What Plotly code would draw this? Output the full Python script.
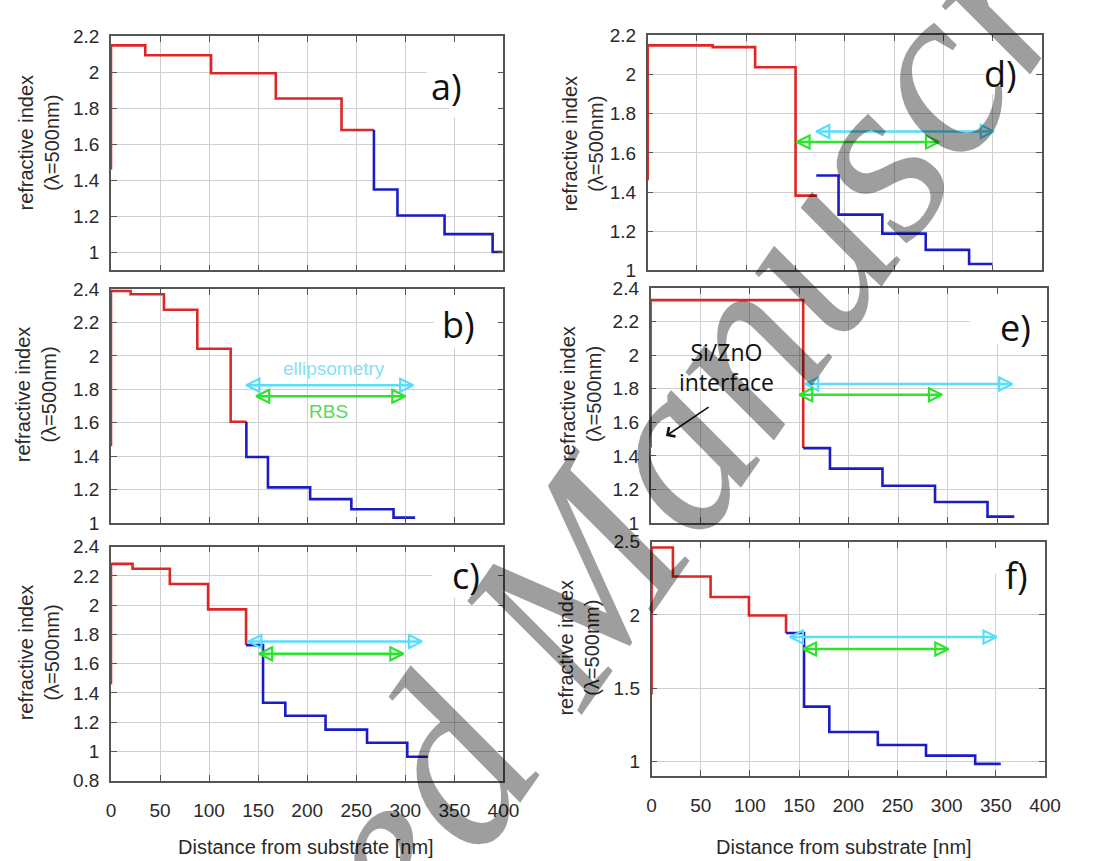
import plotly.graph_objects as go

# ---------------------------------------------------------------------------
# Refractive index (lambda = 500 nm) depth profiles for six ZnO samples.
# Each profile is a step function: x = start of a layer [nm], y = index of
# that layer (the point list is drawn with a horizontal-then-vertical step).
# "inner" = dense part of the film (red), "outer" = graded surface part (blue).
# ---------------------------------------------------------------------------
a_inner_x = [0, 0, 35, 102, 168, 235, 268]
a_inner_y = [1.46, 2.15, 2.095, 1.995, 1.855, 1.68, 1.68]
a_outer_x = [268, 268, 292, 340, 389, 399]
a_outer_y = [1.68, 1.35, 1.205, 1.102, 1.003, 1.003]

b_inner_x = [0, 0, 20, 54, 88, 122, 138]
b_inner_y = [1.46, 2.388, 2.369, 2.276, 2.043, 1.606, 1.606]
b_outer_x = [138, 138, 160, 203, 245, 288, 310]
b_outer_y = [1.606, 1.396, 1.214, 1.144, 1.083, 1.033, 1.033]

c_inner_x = [0, 0, 22, 60, 99, 137.7]
c_inner_y = [1.46, 2.282, 2.249, 2.144, 1.971, 1.727]
c_outer_x = [137.7, 155, 177.7, 218.7, 261, 302, 323]
c_outer_y = [1.727, 1.333, 1.244, 1.149, 1.06, 0.964, 0.964]

d_inner_x = [0, 0, 66, 109, 150, 172]
d_inner_y = [1.461, 2.149, 2.14, 2.037, 1.382, 1.382]
d_outer_x = [171, 193.6, 238, 282, 326, 349.6]
d_outer_y = [1.485, 1.285, 1.188, 1.105, 1.033, 1.033]

e_inner_x = [0, 0, 154]
e_inner_y = [1.451, 2.328, 1.447]
e_outer_x = [154, 181, 234, 287, 340, 367]
e_outer_y = [1.447, 1.325, 1.223, 1.126, 1.039, 1.039]

f_inner_x = [0, 0, 21.7, 60, 99, 136.7]
f_inner_y = [1.456, 2.46, 2.262, 2.122, 1.996, 1.876]
f_outer_x = [136.7, 155, 180.7, 230, 279, 329, 355]
f_outer_y = [1.876, 1.373, 1.2, 1.111, 1.038, 0.982, 0.982]

# Depth ranges probed by ellipsometry and RBS: [start, end] and drawn level
ellips_range = {"b": [138, 308], "c": [140, 317], "d": [171, 351],
                "e": [156, 365], "f": [140.7, 350.7]}
ellips_level = {"b": 1.825, "c": 1.751, "d": 1.709, "e": 1.829, "f": 1.849}
rbs_range = {"b": [148, 300], "c": [151, 298], "d": [151, 295.5],
             "e": [150, 294], "f": [154, 301.7]}
rbs_level = {"b": 1.759, "c": 1.667, "d": 1.656, "e": 1.765, "f": 1.767}

# Axis ranges and ticks
x_ticks = [0, 50, 100, 150, 200, 250, 300, 350, 400]
y_ranges = {"a": [0.9, 2.2], "b": [1.0, 2.4], "c": [0.8, 2.4],
            "d": [1.0, 2.2], "e": [1.0, 2.4], "f": [0.9, 2.5]}
y_ticks = {
    "a": [1, 1.2, 1.4, 1.6, 1.8, 2, 2.2],
    "b": [1, 1.2, 1.4, 1.6, 1.8, 2, 2.2, 2.4],
    "c": [0.8, 1, 1.2, 1.4, 1.6, 1.8, 2, 2.2, 2.4],
    "d": [1, 1.2, 1.4, 1.6, 1.8, 2, 2.2],
    "e": [1, 1.2, 1.4, 1.6, 1.8, 2, 2.2, 2.4],
    "f": [1, 1.5, 2, 2.5],
}
panel_labels = ["a)", "b)", "c)", "d)", "e)", "f)"]

profiles = {
    "a": (a_inner_x, a_inner_y, a_outer_x, a_outer_y),
    "b": (b_inner_x, b_inner_y, b_outer_x, b_outer_y),
    "c": (c_inner_x, c_inner_y, c_outer_x, c_outer_y),
    "d": (d_inner_x, d_inner_y, d_outer_x, d_outer_y),
    "e": (e_inner_x, e_inner_y, e_outer_x, e_outer_y),
    "f": (f_inner_x, f_inner_y, f_outer_x, f_outer_y),
}

# ---------------------------------------------------------------------------
# Layout geometry (pixels on a 1114 x 861 canvas)
# ---------------------------------------------------------------------------
W, H = 1114, 861
boxes = {  # left, right, top, bottom
    "a": (108, 508, 27, 267),
    "b": (108, 508, 286, 526),
    "c": (108, 508, 550, 790),
    "d": (655, 1057, 26, 267),
    "e": (658, 1062, 285, 526),
    "f": (659, 1060, 545, 785),
}
# label position (data coords) and white patch behind it
label_pos = {"a": (342, 1.919), "b": (354, 2.188), "c": (362, 2.2),
             "d": (358, 2.004), "e": (368, 2.167), "f": (370.7, 2.267)}
label_patch = {"a": [(322, 397, 1.87, 2.2), (345, 397, 1.75, 2.2)],
               "b": [(329, 397, 2.05, 2.4)],
               "c": [(327, 397, 2.05, 2.4)],
               "d": [(342, 398, 1.9, 2.2)],
               "e": [(322, 399, 2.07, 2.4)],
               "f": [(345, 398, 2.28, 2.5)]}
ytitle_center = {"a": (34.5, 136), "b": (32.5, 394), "c": (35, 658),
                 "d": (589, 137), "e": (587.5, 393), "f": (585.5, 653)}

RED = "rgb(222,38,38)"
BLUE = "rgb(28,28,196)"
CYAN = "rgb(88,222,250)"
GREEN = "rgb(44,228,44)"
FRAME = "#555555"
GRID = "#cfcfcf"
TXT = "#2a2a2a"
SANS = "Liberation Sans, Arial, sans-serif"

fig = go.Figure()
layout_axes = {}
annotations = []
shapes = []

for i, key in enumerate("abcdef"):
    n = i + 1
    xa, ya = f"x{n}" if n > 1 else "x", f"y{n}" if n > 1 else "y"
    l, r, t, b = boxes[key]
    inner_x, inner_y, outer_x, outer_y = profiles[key]

    fig.add_trace(go.Scatter(x=inner_x, y=inner_y, mode="lines",
                             line=dict(color=RED, width=2.6, shape="hv"),
                             xaxis=xa, yaxis=ya, showlegend=False,
                             hoverinfo="skip"))
    fig.add_trace(go.Scatter(x=outer_x, y=outer_y, mode="lines",
                             line=dict(color=BLUE, width=2.6, shape="hv"),
                             xaxis=xa, yaxis=ya, showlegend=False,
                             hoverinfo="skip"))

    # double-headed range arrows
    for rng, lvl, col in ((ellips_range, ellips_level, CYAN),
                          (rbs_range, rbs_level, GREEN)):
        if key in rng:
            fig.add_trace(go.Scatter(
                x=rng[key], y=[lvl[key], lvl[key]], mode="lines+markers",
                line=dict(color=col, width=2.6),
                marker=dict(symbol=["arrow-left-open", "arrow-right-open"],
                            size=13, color=col,
                            line=dict(color=col, width=2.2)),
                xaxis=xa, yaxis=ya, showlegend=False, hoverinfo="skip"))

    show_x = key in ("c", "f")
    layout_axes["xaxis" if n == 1 else f"xaxis{n}"] = dict(
        domain=[l / W, r / W], anchor=ya, range=[0, 400],
        tickvals=x_ticks, ticktext=[f"{v:g}" for v in x_ticks],
        showticklabels=show_x, ticks="inside", ticklen=6, tickwidth=1,
        tickcolor=FRAME, showline=True, linecolor=FRAME, linewidth=1.6,
        mirror="ticks", showgrid=True, gridcolor=GRID, gridwidth=1,
        zeroline=False, ticklabelstandoff=12,
        tickfont=dict(family=SANS, size=19, color=TXT))
    layout_axes["yaxis" if n == 1 else f"yaxis{n}"] = dict(
        domain=[1 - b / H, 1 - t / H], anchor=xa, range=y_ranges[key],
        tickvals=y_ticks[key], ticktext=[f"{v:g}" for v in y_ticks[key]],
        ticks="inside", ticklen=6, tickwidth=1, tickcolor=FRAME,
        showline=True, linecolor=FRAME, linewidth=1.6, mirror="ticks",
        showgrid=True, gridcolor=GRID, gridwidth=1, zeroline=False,
        ticklabelstandoff=6,
        tickfont=dict(family=SANS, size=19, color=TXT))

    # white patch behind the panel letter (covers the grid only)
    for (x0, x1, y0, y1) in label_patch[key]:
        shapes.append(dict(type="rect", xref=xa, yref=ya, x0=x0, x1=x1,
                           y0=y0, y1=y1, fillcolor="white",
                           line=dict(width=0), layer="between"))

    lx, ly = label_pos[key]
    annotations.append(dict(x=lx, y=ly, xref=xa, yref=ya,
                            xanchor="center", yanchor="middle",
                            text=panel_labels[i], showarrow=False,
                            font=dict(family="Open Sans", size=36,
                                      color="#111111")))

    cx, cy = ytitle_center[key]
    annotations.append(dict(x=cx / W, y=1 - cy / H, xref="paper",
                            yref="paper", xanchor="center", yanchor="middle",
                            text="refractive index<br>(λ=500nm)",
                            textangle=-90, showarrow=False,
                            font=dict(family=SANS, size=20, color=TXT)))

# x-axis titles under the bottom panels
for (cx, cy) in ((307, 858), (855, 858)):
    annotations.append(dict(x=cx / W, y=1 - cy / H, xref="paper",
                            yref="paper", xanchor="center", yanchor="middle",
                            text="Distance from substrate [nm]",
                            showarrow=False,
                            font=dict(family=SANS, size=20, color=TXT)))

# method labels in panel b
annotations.append(dict(x=227, y=1.922, xref="x2", yref="y2",
                        xanchor="center", yanchor="middle",
                        text="ellipsometry", showarrow=False,
                        font=dict(family=SANS, size=19,
                                  color="rgb(135,225,245)")))
annotations.append(dict(x=222, y=1.668, xref="x2", yref="y2",
                        xanchor="center", yanchor="middle",
                        text="RBS", showarrow=False,
                        font=dict(family=SANS, size=19,
                                  color="rgb(90,215,90)")))

# interface call-out in panel e
annotations.append(dict(x=76.6, y=1.931, xref="x5", yref="y5",
                        xanchor="center", yanchor="middle",
                        text="Si/ZnO<br>interface", showarrow=False,
                        font=dict(family="Open Sans", size=23,
                                  color="#111111")))
annotations.append(dict(x=15.5, y=1.519, xref="x5", yref="y5",
                        ax=60, ay=1.697, axref="x5", ayref="y5",
                        text="", showarrow=True, arrowhead=4,
                        arrowsize=1.4, arrowwidth=1.6, arrowcolor="#111111"))

# publisher watermark across the page
annotations.append(dict(x=568 / W, y=1 - 605 / H, xref="paper", yref="paper",
                        xanchor="center", yanchor="middle",
                        text="Accepted Manuscript", showarrow=False,
                        textangle=-55,
                        font=dict(family="Liberation Serif, serif", size=243,
                                  style="italic",
                                  color="rgba(0,0,0,0.38)")))

fig.update_layout(width=W, height=H, margin=dict(l=0, r=0, t=0, b=0),
                  paper_bgcolor="white", plot_bgcolor="white",
                  annotations=annotations, shapes=shapes, **layout_axes)

fig.write_html("out.html")
